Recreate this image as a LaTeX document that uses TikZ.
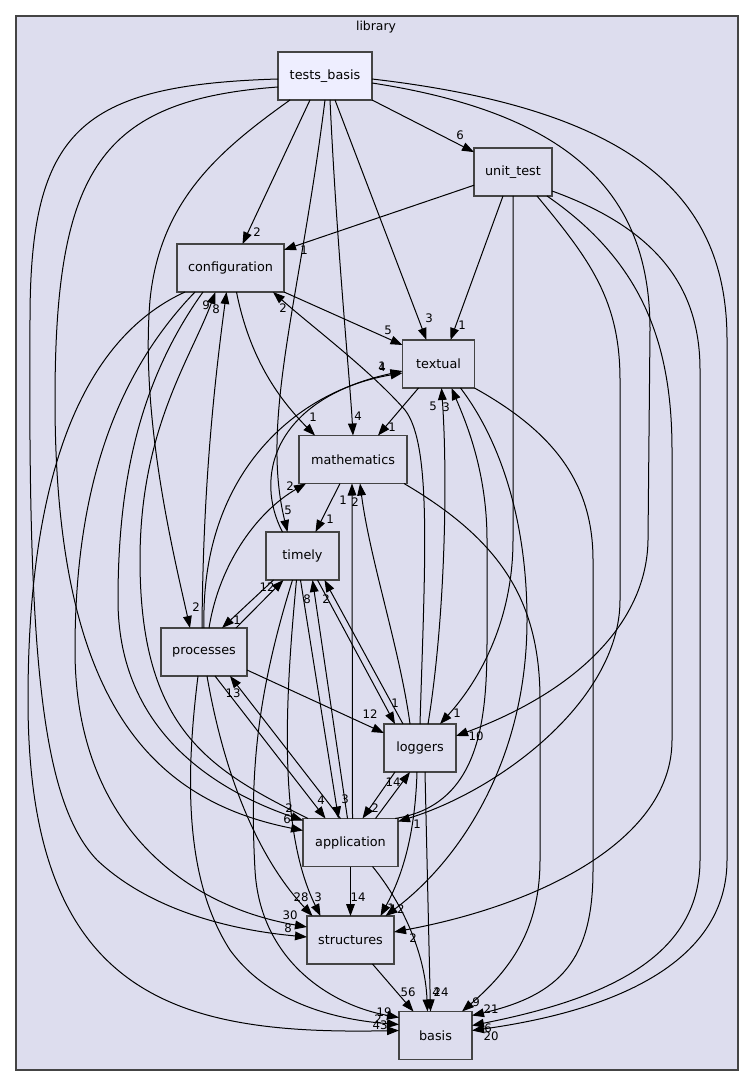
\documentclass[tikz,border=0pt]{standalone}
\usepackage{fontspec}
\setmainfont{DejaVu Sans}
\usetikzlibrary{arrows.meta,calc}
\definecolor{clbg}{HTML}{DDDDEE}
\definecolor{tbfill}{HTML}{EEEEFF}
\definecolor{bord}{HTML}{444444}
\begin{document}
\begin{tikzpicture}[x=0.75pt,y=-0.75pt,
  box/.style={draw=bord,line width=1pt,fill=clbg,minimum height=36pt,inner sep=0pt,outer sep=0pt,font=\fontsize{9.6}{11}\selectfont},
  lab/.style={inner sep=0pt,font=\fontsize{8.8}{10}\selectfont},
  dep/.style={draw=black,line width=0.75pt,-{Triangle[length=9pt,width=6.5pt]}}]
\useasboundingbox (0,0) rectangle (755,1087);
\fill[white] (0,0) rectangle (755,1087);
\draw[bord,fill=clbg,line width=1pt] (16,16) rectangle (738,1070);
\node[inner sep=0pt,font=\fontsize{9.3}{11}\selectfont] (title) at (376,27) {library};

% nodes
\node[box,fill=tbfill,minimum width=70.5pt] (tb) at (325,76) {tests\_basis};
\node[box,minimum width=58.5pt] (ut) at (513,172) {unit\_test};
\node[box,minimum width=80.25pt] (cfg) at (230.5,268) {configuration};
\node[box,minimum width=54pt] (txt) at (438.5,364) {textual};
\node[box,minimum width=81pt] (mat) at (353,459.5) {mathematics};
\node[box,minimum width=54.75pt] (tim) at (302.5,556) {timely};
\node[box,minimum width=64.5pt] (pro) at (204,652) {processes};
\node[box,minimum width=54pt] (log) at (420,748) {loggers};
\node[box,minimum width=71.25pt] (app) at (350.5,842.5) {application};
\node[box,minimum width=65.25pt] (str) at (350.5,940) {structures};
\node[box,minimum width=54.75pt] (bas) at (435.5,1035.5) {basis};

% tests_basis
\draw[dep] (tb) -- (ut);
\draw[dep] ($(tb.south)+(-15,0)$) -- ($(cfg.north)+(12,0)$);
\draw[dep] ($(tb.south)+(10,0)$) -- ($(txt.north)+(-12,0)$);
\draw[dep] ($(tb.south)+(5,0)$) .. controls (337,250) and (350,380) .. (mat.north);
\draw[dep] (tb.south) .. controls (300,300) and (260,420) .. ($(tim.north)+(-15,0)$);
\draw[dep] ($(tb.south)+(-35,0)$) .. controls (220,150) and (160,200) .. (150,300) .. controls (140,420) and (175,560) .. ($(pro.north)+(-14,0)$);
\draw[dep] ($(tb.east)+(0,7)$) .. controls (580,115) and (650,200) .. (650,330) -- (648,540) .. controls (647,620) and (580,690) .. ($(log.east)+(0,-12)$);
\draw[dep] ($(tb.east)+(0,3)$) .. controls (640,110) and (727,200) .. (727,340) -- (727,860) .. controls (727,960) and (620,1010) .. ($(bas.east)+(0,-5)$);
\draw[dep] ($(tb.west)+(0,3)$) .. controls (80,85) and (30,130) .. (30,320) .. controls (28,650) and (40,800) .. (97,860) .. controls (150,910) and (230,930) .. ($(str.west)+(0,-3)$);
\draw[dep] ($(tb.west)+(0,11)$) .. controls (100,100) and (55,170) .. (55,400) .. controls (55,700) and (150,800) .. ($(app.west)+(0,-12)$);

% unit_test
\draw[dep] (ut) -- (cfg);
\draw[dep] ($(ut.south)+(-10,0)$) -- ($(txt.north)+(12,0)$);
\draw[dep] (ut.south) -- (513,540) .. controls (513,620) and (480,680) .. ($(log.north)+(20,0)$);
\draw[dep] ($(ut.south)+(24,0)$) .. controls (590,260) and (620,300) .. (620,380) -- (620,600) .. controls (620,700) and (500,790) .. ($(app.north east)+(0,3)$);
\draw[dep] ($(ut.south east)+(-5,0)$) .. controls (640,260) and (672,340) .. (672,450) -- (672,740) .. controls (672,840) and (540,905) .. ($(str.east)+(0,-8)$);
\draw[dep] ($(ut.east)+(0,19)$) .. controls (660,230) and (700,290) .. (700,370) -- (700,860) .. controls (700,960) and (600,1000) .. ($(bas.east)+(0,-10)$);

% configuration
\draw[dep] (cfg.south east) -- ($(txt.west)+(0,-19)$);
\draw[dep] ($(cfg.south)+(6,0)$) .. controls (250,360) and (280,400) .. ($(mat.north)+(-38,0)$);
\draw[dep] ($(cfg.south west)+(8,0)$) .. controls (80,340) and (28,480) .. (28,700) .. controls (28,1000) and (180,1035) .. ($(bas.west)+(0,-5)$);
\draw[dep] ($(cfg.south west)+(18,0)$) .. controls (110,380) and (75,500) .. (75,650) .. controls (75,820) and (180,905) .. ($(str.west)+(0,-13)$);
\draw[dep] ($(cfg.south west)+(26,0)$) .. controls (140,380) and (118,480) .. (118,600) .. controls (118,720) and (200,785) .. ($(app.west)+(0,-22)$);

% processes
\draw[dep] ($(pro.north)+(-2,0)$) .. controls (203,500) and (212,400) .. ($(cfg.south)+(-4,0)$);
\draw[dep] (pro.north) .. controls (200,470) and (300,390) .. ($(txt.west)+(0,9)$);
\draw[dep] ($(pro.north)+(5,0)$) .. controls (220,560) and (260,510) .. ($(mat.south west)+(7,0)$);
\draw[dep] ($(pro.north)+(32,0)$) -- ($(tim.south)+(-19,0)$);
\draw[dep] ($(pro.east)+(0,18)$) -- ($(log.west)+(0,-15)$);
\draw[dep] ($(pro.south)+(11,0)$) -- ($(app.north)+(-25,0)$);
\draw[dep] ($(pro.south)+(3,0)$) .. controls (225,780) and (260,860) .. ($(str.north)+(-38,0)$);
\draw[dep] ($(pro.south)+(-6,0)$) .. controls (185,780) and (185,880) .. (230,950) .. controls (270,1005) and (340,1020) .. ($(bas.west)+(0,-11)$);

% timely
\draw[dep] ($(tim.north)+(-20,0)$) .. controls (255,480) and (270,400) .. ($(txt.west)+(0,7)$);
\draw[dep] ($(tim.south)+(-29,0)$) -- ($(pro.north)+(18,0)$);
\draw[dep] ($(tim.south)+(15,0)$) -- ($(log.north)+(-25,0)$);
\draw[dep] ($(tim.south)+(-2,0)$) -- ($(app.north)+(-12,0)$);
\draw[dep] ($(tim.south)+(-6,0)$) .. controls (285,700) and (278,830) .. ($(str.north)+(-30,0)$);
\draw[dep] ($(tim.south)+(-10,0)$) .. controls (255,700) and (250,780) .. (255,870) .. controls (260,960) and (330,1005) .. ($(bas.west)+(0,-18)$);

% mathematics
\draw[dep] ($(mat.south)+(-13,0)$) -- ($(tim.north)+(13,0)$);
\draw[dep] ($(mat.south east)+(-3,0)$) .. controls (500,540) and (540,600) .. (540,700) -- (540,860) .. controls (540,930) and (510,970) .. ($(bas.north east)+(-10,0)$);

% textual
\draw[dep] ($(txt.south)+(-20,0)$) -- ($(mat.north)+(25,0)$);
\draw[dep] (txt.south east) .. controls (550,430) and (593,480) .. (593,560) -- (593,870) .. controls (593,960) and (560,995) .. ($(bas.east)+(0,-20)$);
\draw[dep] ($(txt.south)+(22,0)$) .. controls (500,440) and (527,520) .. (527,620) .. controls (527,760) and (460,860) .. ($(str.north)+(35,0)$);

% loggers
\draw[dep] (log.north) .. controls (425,560) and (432,445) .. (405,410) .. controls (370,370) and (310,325) .. ($(cfg.south east)+(-11,0)$);
\draw[dep] ($(log.north)+(-17,0)$) -- ($(tim.south)+(22,0)$);
\draw[dep] ($(log.north)+(-10,0)$) .. controls (400,650) and (370,560) .. ($(mat.south)+(7,0)$);
\draw[dep] ($(log.north)+(8,0)$) .. controls (445,620) and (448,480) .. ($(txt.south)+(3,0)$);
\draw[dep] ($(log.south)+(-25,0)$) -- ($(app.north)+(12,0)$);
\draw[dep] ($(log.south)+(-3,0)$) .. controls (415,840) and (400,880) .. ($(str.north)+(30,0)$);
\draw[dep] ($(log.south)+(5,0)$) -- ($(bas.north)+(-5,0)$);

% application
\draw[dep] ($(app.north west)+(5,0)$) .. controls (210,770) and (140,730) .. (140,560) .. controls (140,430) and (190,360) .. ($(cfg.south)+(-15,0)$);
\draw[dep] ($(app.north)+(-10,0)$) -- ($(pro.south)+(26,0)$);
\draw[dep] ($(app.north)+(-3,0)$) -- ($(tim.south)+(10,0)$);
\draw[dep] ($(app.north)+(2,0)$) -- ($(mat.south)+(-1,0)$);
\draw[dep] ($(app.north)+(25,0)$) -- ($(log.south)+(-10,0)$);
\draw[dep] ($(app.north east)+(-3,0)$) .. controls (480,805) and (487,720) .. (487,640) -- (487,540) .. controls (487,470) and (465,420) .. ($(txt.south)+(13,0)$);
\draw[dep] (app.south) -- (str.north);
\draw[dep] ($(app.south)+(22,0)$) .. controls (400,900) and (425,950) .. ($(bas.north)+(-8,0)$);

% structures
\draw[dep] ($(str.south)+(22,0)$) -- ($(bas.north)+(-22,0)$);

% labels
\node[lab] (l1) at (460,135) {6};
\node[lab] (l2) at (257,232) {2};
\node[lab] (l3) at (429,318) {3};
\node[lab] (l4) at (358,416) {4};
\node[lab] (l5) at (288,510) {5};
\node[lab] (l6) at (196,607) {2};
\node[lab] (l7) at (476,736) {10};
\node[lab] (l8) at (491,1036) {20};
\node[lab] (l9) at (288,928) {8};
\node[lab] (l10) at (287,819) {6};
\node[lab] (l11) at (304,250) {1};
\node[lab] (l12) at (462,325) {1};
\node[lab] (l13) at (457,713) {1};
\node[lab] (l14) at (417,824) {1};
\node[lab] (l15) at (413,938) {2};
\node[lab] (l16) at (488,1028) {6};
\node[lab] (l17) at (388,330) {5};
\node[lab] (l18) at (283,308) {2};
\node[lab] (l19) at (313,417) {1};
\node[lab] (l20) at (380,1025) {43};
\node[lab] (l21) at (290,915) {30};
\node[lab] (l22) at (289,808) {2};
\node[lab] (l23) at (206,305) {9};
\node[lab] (l24) at (216,309) {8};
\node[lab] (l25) at (382,367) {4};
\node[lab] (l26) at (382,366) {1};
\node[lab] (l27) at (290,486) {2};
\node[lab] (l28) at (267,587) {12};
\node[lab] (l29) at (237,620) {1};
\node[lab] (l30) at (370,714) {12};
\node[lab] (l31) at (321,800) {4};
\node[lab] (l32) at (233,693) {13};
\node[lab] (l33) at (345,799) {3};
\node[lab] (l34) at (307,599) {8};
\node[lab] (l35) at (343,500) {1};
\node[lab] (l36) at (355,502) {2};
\node[lab] (l37) at (326,599) {2};
\node[lab] (l38) at (395,703) {1};
\node[lab] (l39) at (433,406) {5};
\node[lab] (l40) at (375,808) {2};
\node[lab] (l41) at (393,782) {14};
\node[lab] (l42) at (446,407) {3};
\node[lab] (l43) at (397,909) {12};
\node[lab] (l44) at (391,908) {1};
\node[lab] (l45) at (358,897) {14};
\node[lab] (l46) at (318,897) {3};
\node[lab] (l47) at (301,897) {28};
\node[lab] (l48) at (408,992) {56};
\node[lab] (l49) at (441,992) {24};
\node[lab] (l50) at (436,992) {4};
\node[lab] (l51) at (476,1002) {9};
\node[lab] (l52) at (491,1009) {21};
\node[lab] (l53) at (384,1012) {19};
\node[lab] (l54) at (378,1019) {2};
\node[lab] (l55) at (392,427) {1};
\node[lab] (l56) at (330,519) {1};
\end{tikzpicture}
\end{document}
